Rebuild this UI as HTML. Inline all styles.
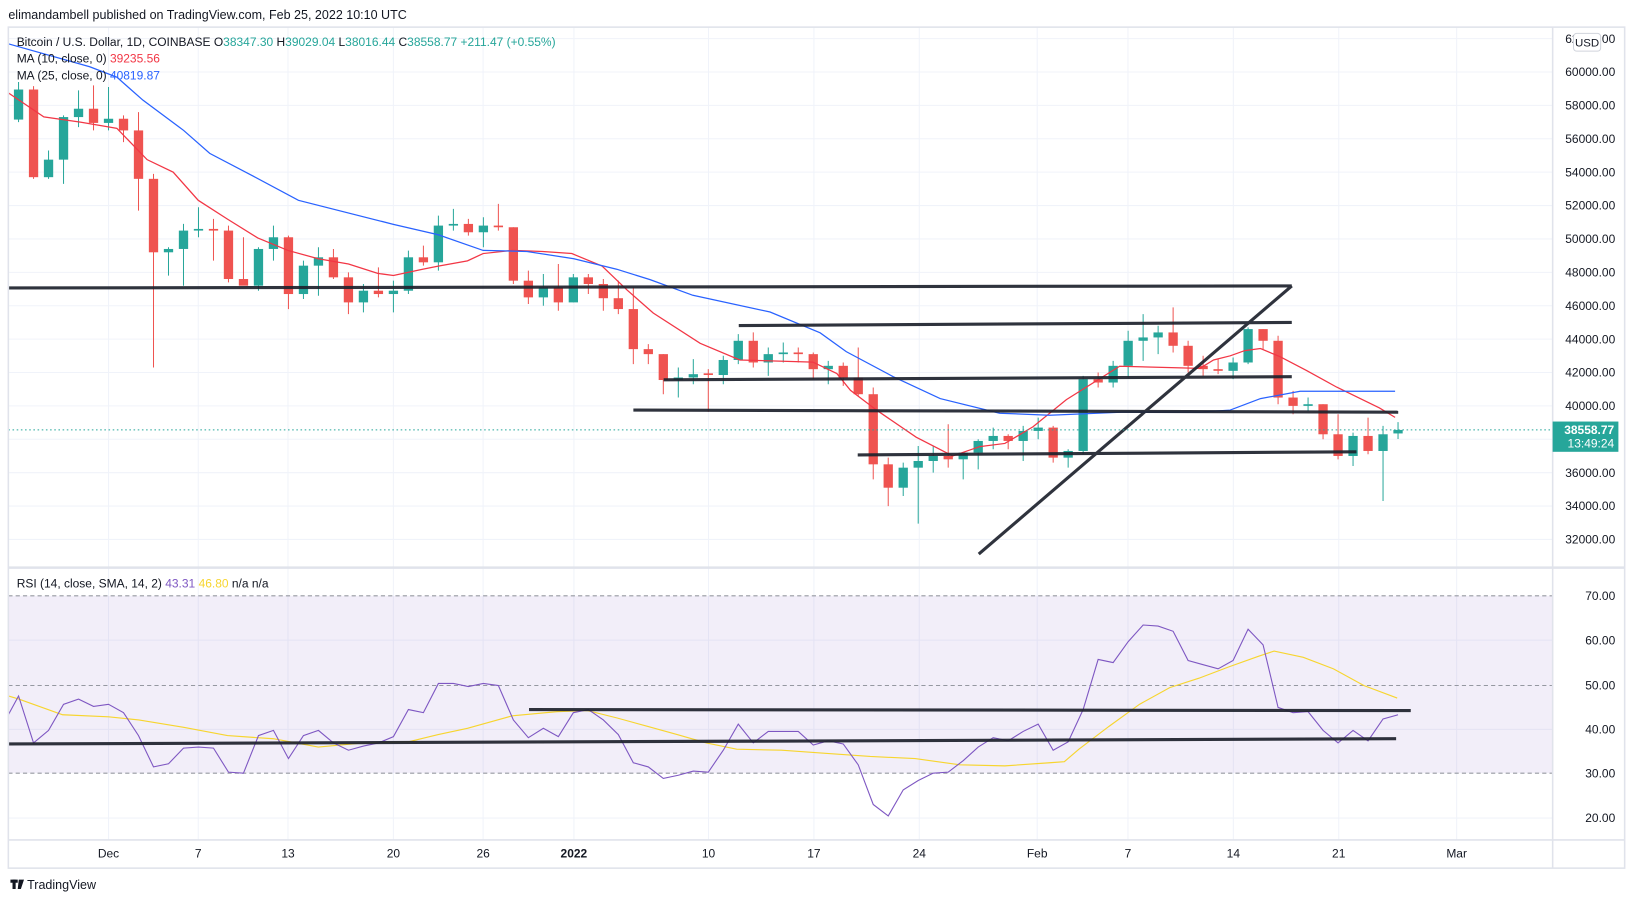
<!DOCTYPE html>
<html><head><meta charset="utf-8"><style>
html,body{margin:0;padding:0;background:#fff;}
svg{display:block;font-family:"Liberation Sans",sans-serif;}
</style></head><body>
<svg width="1633" height="901" viewBox="0 0 1565 863.5" preserveAspectRatio="none" xmlns="http://www.w3.org/2000/svg">
<rect x="0" y="0" width="1565" height="863.5" fill="#fff"/>
<g stroke="#f0f3fa" stroke-width="1">
<line x1="104" y1="26" x2="104" y2="805"/><line x1="190" y1="26" x2="190" y2="805"/><line x1="276" y1="26" x2="276" y2="805"/><line x1="377" y1="26" x2="377" y2="805"/><line x1="463" y1="26" x2="463" y2="805"/><line x1="550" y1="26" x2="550" y2="805"/><line x1="679" y1="26" x2="679" y2="805"/><line x1="780" y1="26" x2="780" y2="805"/><line x1="881" y1="26" x2="881" y2="805"/><line x1="994" y1="26" x2="994" y2="805"/><line x1="1081" y1="26" x2="1081" y2="805"/><line x1="1182" y1="26" x2="1182" y2="805"/><line x1="1283" y1="26" x2="1283" y2="805"/><line x1="1396" y1="26" x2="1396" y2="805"/>
<line x1="8" y1="37" x2="1488" y2="37"/><line x1="8" y1="69" x2="1488" y2="69"/><line x1="8" y1="101" x2="1488" y2="101"/><line x1="8" y1="133" x2="1488" y2="133"/><line x1="8" y1="165" x2="1488" y2="165"/><line x1="8" y1="197" x2="1488" y2="197"/><line x1="8" y1="229" x2="1488" y2="229"/><line x1="8" y1="261" x2="1488" y2="261"/><line x1="8" y1="293" x2="1488" y2="293"/><line x1="8" y1="325" x2="1488" y2="325"/><line x1="8" y1="357" x2="1488" y2="357"/><line x1="8" y1="389" x2="1488" y2="389"/><line x1="8" y1="421" x2="1488" y2="421"/><line x1="8" y1="453" x2="1488" y2="453"/><line x1="8" y1="485" x2="1488" y2="485"/><line x1="8" y1="517" x2="1488" y2="517"/>
<line x1="8" y1="613.5" x2="1488" y2="613.5"/><line x1="8" y1="699" x2="1488" y2="699"/><line x1="8" y1="784" x2="1488" y2="784"/>
</g>
<rect x="8" y="571" width="1480" height="170" fill="#7e57c2" fill-opacity="0.1"/>
<g stroke="#9598a1" stroke-dasharray="4 3" stroke-width="1">
<line x1="8" y1="571" x2="1488" y2="571"/><line x1="8" y1="657" x2="1488" y2="657"/><line x1="8" y1="741" x2="1488" y2="741"/>
</g>

<g transform="translate(17.78,1029) scale(14.37,-16)">
<path fill="none" stroke="#26a69a" stroke-width="1" vector-effect="non-scaling-stroke" d="M0 57V59.4M2 53.6V55.3M3 53.3V57.4M4 56.7V58.9M6 56.5V59.1M10 47.8V49.5M11 47.2V50.9M12 50.1V51.9M16 46.9V49.5M17 48.7V50.8M19 46.4V48.7M20 46.6V49.5M23 45.6V47.3M25 45.6V47.5M26 46.7V49.3M28 48.1V51.4M29 50.5V51.8M31 49.5V51.3M35 46V47.9M37 46.2V47.9M44 40.5V42.3M45 41.3V42.8M47 41.3V43M48 42.5V44.3M50 41.8V43.5M51 42.6V43.8M54 41.3V42.7M59 34.6V36.6M60 32.95V37.6M61 36V37.6M63 35.6V37.2M64 36.2V38M65 37.4V38.7M67 36.7V38.8M68 38V39.3M70 36.3V37.4M71 37.1V41.8M73 41.1V42.7M74 41.7V44.5M75 42.7V45.5M76 43.1V44.8M81 41.6V42.9M82 42.5V44.7M86 39.7V40.5M89 36.4V38.4M91 34.3V38.8M92 38.02V39.03"/>
<path fill="none" stroke="#ef5350" stroke-width="1" vector-effect="non-scaling-stroke" d="M1 53.6V59.15M5 56.5V59.2M7 55.8V57.4M8 51.7V57.6M9 42.3V53.9M13 48.7V51.2M14 47.4V50.8M15 47.3V50.1M18 45.8V50.2M21 47.6V49.4M22 45.5V48M24 46.5V48.3M27 48.4V49.6M30 50.2V51.2M32 50.5V52.1M33 47.3V50.7M34 46.1V48.1M36 45.7V48.5M38 46.7V47.9M39 45.7V47.6M40 45.5V47.5M41 42.5V47.1M42 42.5V43.7M43 40.7V43.1M46 39.65V42.2M49 42.3V44.4M52 42.6V43.5M53 41.6V43.2M55 41.2V42.6M56 40.6V43.5M57 35.6V41.1M58 34V36.9M62 36.3V38.9M66 37.4V38.3M69 36.6V38.8M72 41.1V42M77 43.2V45.9M78 42V43.9M79 41.8V43M80 41.9V42.8M83 43.4V44.6M84 40.1V44.2M85 39.5V40.9M87 38V40.1M88 36.8V39.5M90 37.1V39.3"/>
<g fill="#26a69a">
<rect x="-0.31" y="57.15" width="0.62" height="1.8"/><rect x="1.69" y="53.7" width="0.62" height="1.05"/><rect x="2.69" y="54.75" width="0.62" height="2.55"/><rect x="3.69" y="57.3" width="0.62" height="0.5"/><rect x="5.69" y="56.95" width="0.62" height="0.25"/><rect x="9.69" y="49.2" width="0.62" height="0.2"/><rect x="10.69" y="49.4" width="0.62" height="1.1"/><rect x="11.69" y="50.5" width="0.62" height="0.1"/><rect x="15.69" y="47.2" width="0.62" height="2.2"/><rect x="16.69" y="49.4" width="0.62" height="0.7"/><rect x="18.69" y="46.7" width="0.62" height="1.7"/><rect x="19.69" y="48.4" width="0.62" height="0.5"/><rect x="22.69" y="46.2" width="0.62" height="0.7"/><rect x="24.69" y="46.7" width="0.62" height="0.2"/><rect x="25.69" y="46.9" width="0.62" height="2"/><rect x="27.69" y="48.6" width="0.62" height="2.2"/><rect x="28.69" y="50.8" width="0.62" height="0.1"/><rect x="30.69" y="50.4" width="0.62" height="0.4"/><rect x="34.69" y="46.5" width="0.62" height="0.6"/><rect x="36.69" y="46.2" width="0.62" height="1.5"/><rect x="43.69" y="41.55" width="0.62" height="0.15"/><rect x="44.69" y="41.7" width="0.62" height="0.2"/><rect x="46.69" y="41.85" width="0.62" height="0.9"/><rect x="47.69" y="42.75" width="0.62" height="1.15"/><rect x="49.69" y="42.6" width="0.62" height="0.5"/><rect x="50.69" y="43.1" width="0.62" height="0.1"/><rect x="53.69" y="42.2" width="0.62" height="0.2"/><rect x="58.69" y="35.1" width="0.62" height="1.2"/><rect x="59.69" y="36.3" width="0.62" height="0.4"/><rect x="60.69" y="36.7" width="0.62" height="0.3"/><rect x="62.69" y="36.8" width="0.62" height="0.4"/><rect x="63.69" y="37.2" width="0.62" height="0.7"/><rect x="64.69" y="37.9" width="0.62" height="0.3"/><rect x="66.69" y="37.9" width="0.62" height="0.6"/><rect x="67.69" y="38.5" width="0.62" height="0.2"/><rect x="69.69" y="36.9" width="0.62" height="0.4"/><rect x="70.69" y="37.3" width="0.62" height="4.3"/><rect x="72.69" y="41.4" width="0.62" height="1"/><rect x="73.69" y="42.4" width="0.62" height="1.5"/><rect x="74.69" y="43.9" width="0.62" height="0.2"/><rect x="75.69" y="44.1" width="0.62" height="0.3"/><rect x="80.69" y="42.1" width="0.62" height="0.5"/><rect x="81.69" y="42.6" width="0.62" height="2"/><rect x="85.69" y="40" width="0.62" height="0.1"/><rect x="88.69" y="37" width="0.62" height="1.2"/><rect x="90.69" y="37.3" width="0.62" height="1"/><rect x="91.69" y="38.35" width="0.62" height="0.21"/>
</g>
<g fill="#ef5350">
<rect x="0.69" y="53.7" width="0.62" height="5.25"/><rect x="4.69" y="56.95" width="0.62" height="0.85"/><rect x="6.69" y="56.5" width="0.62" height="0.7"/><rect x="7.69" y="53.6" width="0.62" height="2.9"/><rect x="8.69" y="49.2" width="0.62" height="4.4"/><rect x="12.69" y="50.5" width="0.62" height="0.1"/><rect x="13.69" y="47.6" width="0.62" height="2.9"/><rect x="14.69" y="47.2" width="0.62" height="0.4"/><rect x="17.69" y="46.7" width="0.62" height="3.4"/><rect x="20.69" y="47.7" width="0.62" height="1.2"/><rect x="21.69" y="46.2" width="0.62" height="1.5"/><rect x="23.69" y="46.7" width="0.62" height="0.2"/><rect x="26.69" y="48.6" width="0.62" height="0.3"/><rect x="29.69" y="50.4" width="0.62" height="0.5"/><rect x="31.69" y="50.7" width="0.62" height="0.1"/><rect x="32.69" y="47.5" width="0.62" height="3.2"/><rect x="33.69" y="46.5" width="0.62" height="1"/><rect x="35.69" y="46.2" width="0.62" height="0.9"/><rect x="37.69" y="47.3" width="0.62" height="0.4"/><rect x="38.69" y="46.45" width="0.62" height="0.85"/><rect x="39.69" y="45.8" width="0.62" height="0.65"/><rect x="40.69" y="43.4" width="0.62" height="2.4"/><rect x="41.69" y="43.1" width="0.62" height="0.3"/><rect x="42.69" y="41.55" width="0.62" height="1.55"/><rect x="45.69" y="41.85" width="0.62" height="0.1"/><rect x="48.69" y="42.6" width="0.62" height="1.3"/><rect x="51.69" y="43.1" width="0.62" height="0.1"/><rect x="52.69" y="42.2" width="0.62" height="0.9"/><rect x="54.69" y="41.7" width="0.62" height="0.7"/><rect x="55.69" y="40.7" width="0.62" height="1"/><rect x="56.69" y="36.5" width="0.62" height="4.2"/><rect x="57.69" y="35.1" width="0.62" height="1.4"/><rect x="61.69" y="36.8" width="0.62" height="0.2"/><rect x="65.69" y="37.9" width="0.62" height="0.3"/><rect x="68.69" y="36.9" width="0.62" height="1.8"/><rect x="71.69" y="41.4" width="0.62" height="0.2"/><rect x="76.69" y="43.6" width="0.62" height="0.8"/><rect x="77.69" y="42.4" width="0.62" height="1.2"/><rect x="78.69" y="42.2" width="0.62" height="0.2"/><rect x="79.69" y="42.1" width="0.62" height="0.1"/><rect x="82.69" y="43.9" width="0.62" height="0.7"/><rect x="83.69" y="40.5" width="0.62" height="3.4"/><rect x="84.69" y="40" width="0.62" height="0.5"/><rect x="86.69" y="38.3" width="0.62" height="1.8"/><rect x="87.69" y="37" width="0.62" height="1.3"/><rect x="89.69" y="37.3" width="0.62" height="0.9"/>
</g>
</g>

<!-- MA lines -->
<polyline fill="none" stroke="#f23645" stroke-width="1.2" points="8,89 42,112 77,117 112,123 141,153 166,165 190,192 218,210 247,228 276,240 305,248 334,253 362,262 377,264 405,258 420,255 448,250 463,243 491,240 520,241 548,243 577,255 601,278 626,300 671,329 709,345 779,347 802,358 815,374 840,393 878,419 913,437 939,428 963,425 990,409 1022,383 1073,351 1150,353 1163,345 1179,341 1193,336 1208,334 1227,342 1252,355 1281,371 1322,391 1337,400"/>
<polyline fill="none" stroke="#2962ff" stroke-width="1.2" points="8,42 86,64 112,74 137,96 176,125 201,147 243,169 286,192 377,215 420,225 463,240 505,241 550,248 591,258 623,268 664,283 738,299 786,319 811,337 856,361 901,382 958,396 1006,398 1076,395 1150,395 1179,393 1208,382 1246,375 1278,375 1337,375"/>
<!-- RSI -->
<polyline fill="none" stroke="#f7d52f" stroke-width="1.1" points="8,667 18,670 60,685 104,687 133,690 176,697 218,705 262,708 305,716 348,712 391,711 420,704 448,698 491,686 534,682 563,681 591,688 620,696 649,704 677,712 706,718 749,719 791,722 834,725 877,727 920,733 963,734 1006,731 1020,730 1034,718 1063,696 1092,675 1121,659 1149,650 1178,639 1206,629 1221,624 1249,630 1278,641 1307,657 1339,669"/>
<g transform="translate(17.78,0) scale(14.37,1)">
<polyline fill="none" stroke="#7e57c2" stroke-width="1.1" vector-effect="non-scaling-stroke" points="-0.68,685 0,667 1,712 2,700 3,675 4,670 5,677 6,675 7,683 8,705 9,735 10,732 11,717 12,716 13,717 14,740 15,741 16,705 17,700 18,727 19,705 20,700 21,712 22,719 23,715 24,712 25,706 26,680 27,683 28,655 29,655 30,658 31,655 32,657 33,690 34,707 35,698 36,706 37,683 38,680 39,690 40,704 41,731 42,735 43,746 44,743 45,739 46,740 47,719 48,694 49,712 50,701 51,701 52,701 53,714 54,710 55,713 56,733 57,771 58,782 59,757 60,748 61,741 62,740 63,729 64,716 65,707 66,710 67,701 68,694 69,719 70,711 71,680 72,632 73,635 74,615 75,599 76,600 77,605 78,633 79,637 80,641 81,633 82,603 83,618 84,678 85,683 86,682 87,700 88,712 89,700 90,710 91,689 92,685"/>
</g>

<!-- drawn lines -->
<g stroke="#1e222d" stroke-width="3" opacity="0.92">
<line x1="8" y1="276" x2="1238" y2="274"/>
<line x1="938" y1="531" x2="1238" y2="274"/>
<line x1="708" y1="312" x2="1238" y2="309"/>
<line x1="636" y1="364" x2="1238" y2="361"/>
<line x1="607" y1="393" x2="1340" y2="395"/>
<line x1="822" y1="436" x2="1300" y2="433"/>
<line x1="8" y1="713" x2="1338" y2="708"/>
<line x1="507" y1="680" x2="1352" y2="681"/>
</g>
<line x1="8" y1="412" x2="1488" y2="412" stroke="#26a69a" stroke-dasharray="1.5 2.5" stroke-width="1"/>
<!-- frame -->
<g fill="none" stroke="#e0e3eb" stroke-width="1.5">
<rect x="8" y="26" width="1549" height="806"/>
<line x1="1488" y1="26" x2="1488" y2="832"/>
<line x1="8" y1="544" x2="1557" y2="544" stroke-width="2.5"/>
<line x1="8" y1="805" x2="1557" y2="805"/>
</g>
<g font-size="11.5" fill="#131722" text-anchor="middle">
<text x="104" y="822">Dec</text><text x="190" y="822">7</text><text x="276" y="822">13</text><text x="377" y="822">20</text><text x="463" y="822">26</text><text x="550" y="822" font-weight="bold">2022</text><text x="679" y="822">10</text><text x="780" y="822">17</text><text x="881" y="822">24</text><text x="994" y="822">Feb</text><text x="1081" y="822">7</text><text x="1182" y="822">14</text><text x="1283" y="822">21</text><text x="1396" y="822">Mar</text>
</g>
<g font-size="11.5" fill="#131722" text-anchor="end">
<text x="1548" y="41">62000.00</text><text x="1548" y="73">60000.00</text><text x="1548" y="105">58000.00</text><text x="1548" y="137">56000.00</text><text x="1548" y="169">54000.00</text><text x="1548" y="201">52000.00</text><text x="1548" y="233">50000.00</text><text x="1548" y="265">48000.00</text><text x="1548" y="297">46000.00</text><text x="1548" y="329">44000.00</text><text x="1548" y="361">42000.00</text><text x="1548" y="393">40000.00</text><text x="1548" y="457">36000.00</text><text x="1548" y="489">34000.00</text><text x="1548" y="521">32000.00</text>
<text x="1548" y="575">70.00</text><text x="1548" y="617.5">60.00</text><text x="1548" y="661">50.00</text><text x="1548" y="703">40.00</text><text x="1548" y="745">30.00</text><text x="1548" y="788">20.00</text>
</g>
<rect x="1488" y="404" width="63" height="29" fill="#26a69a"/>
<text x="1547" y="416" font-size="11.5" fill="#fff" text-anchor="end" font-weight="bold">38558.77</text>
<text x="1547" y="429" font-size="11.5" fill="#fff" text-anchor="end">13:49:24</text>
<rect x="1508" y="32" width="26" height="17" rx="3" fill="#fff" stroke="#d1d4dc"/>
<text x="1521" y="44.5" font-size="11" fill="#131722" text-anchor="middle">USD</text>
<text x="8" y="18" font-size="12" fill="#131722">elimandambell published on TradingView.com, Feb 25, 2022 10:10 UTC</text>
<text x="16" y="44" font-size="11.5" fill="#131722">Bitcoin / U.S. Dollar, 1D, COINBASE  O<tspan fill="#26a69a">38347.30</tspan>  H<tspan fill="#26a69a">39029.04</tspan>  L<tspan fill="#26a69a">38016.44</tspan>  C<tspan fill="#26a69a">38558.77</tspan>  <tspan fill="#26a69a">+211.47 (+0.55%)</tspan></text>
<text x="16" y="60" font-size="11.5" fill="#131722">MA (10, close, 0)  <tspan fill="#f23645">39235.56</tspan></text>
<text x="16" y="76" font-size="11.5" fill="#131722">MA (25, close, 0)  <tspan fill="#2962ff">40819.87</tspan></text>
<text x="16" y="563" font-size="11.5" fill="#131722">RSI (14, close, SMA, 14, 2)  <tspan fill="#7e57c2">43.31</tspan>  <tspan fill="#f7d52f">46.80</tspan>  n/a  n/a</text>
<g fill="#131722"><rect x="10" y="843" width="7" height="3"/><rect x="12" y="843" width="3" height="9"/><path d="M18 843h5l-3 9h-3z"/></g>
<text x="26" y="852" font-size="12" fill="#131722">TradingView</text>
</svg>
</body></html>
